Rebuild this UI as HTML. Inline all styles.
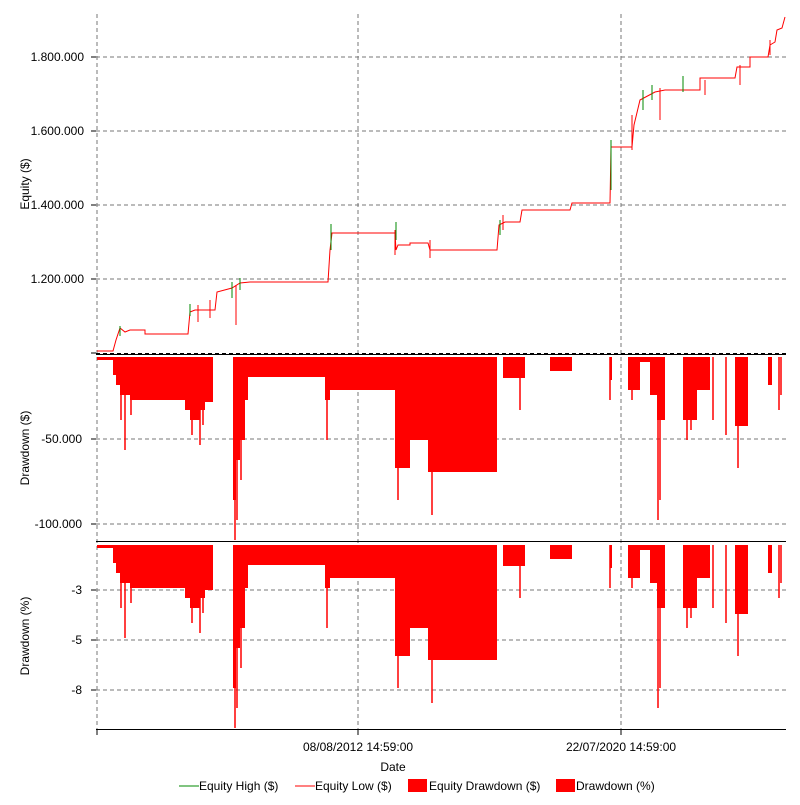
<!DOCTYPE html>
<html><head><meta charset="utf-8"><style>
body{margin:0;background:#fff;font-family:"Liberation Sans",sans-serif;}
svg text{font-family:"Liberation Sans",sans-serif;font-size:12px;fill:#000}
</style></head><body>
<svg id="s" width="800" height="800" xmlns="http://www.w3.org/2000/svg">
<rect width="800" height="800" fill="#fff"/>
<g stroke="#777" stroke-dasharray="4,3" stroke-width="1">
<line x1="97" y1="14" x2="97" y2="729"/><line x1="358" y1="14" x2="358" y2="729"/><line x1="621" y1="14" x2="621" y2="729"/>
<line x1="96" y1="57" x2="786" y2="57"/><line x1="96" y1="131" x2="786" y2="131"/><line x1="96" y1="205" x2="786" y2="205"/><line x1="96" y1="279" x2="786" y2="279"/>
<line x1="96" y1="439" x2="786" y2="439"/><line x1="96" y1="524" x2="786" y2="524"/>
<line x1="96" y1="590" x2="786" y2="590"/><line x1="96" y1="640" x2="786" y2="640"/><line x1="96" y1="690" x2="786" y2="690"/>
</g>
<g id="dd"></g>
<g id="eq"></g>
<g stroke="#000" stroke-width="1">
<line x1="96" y1="353.5" x2="786" y2="353.5" stroke-dasharray="4,3"/>
<line x1="96" y1="354.5" x2="786" y2="354.5"/>
<line x1="96" y1="541.5" x2="786" y2="541.5"/>
<line x1="96" y1="729.5" x2="786" y2="729.5"/>
<line x1="91" y1="57" x2="96" y2="57"/><line x1="91" y1="131" x2="96" y2="131"/><line x1="91" y1="205" x2="96" y2="205"/><line x1="91" y1="279" x2="96" y2="279"/><line x1="91" y1="353" x2="96" y2="353"/>
<line x1="91" y1="439" x2="96" y2="439"/><line x1="91" y1="524" x2="96" y2="524"/>
<line x1="91" y1="590" x2="96" y2="590"/><line x1="91" y1="640" x2="96" y2="640"/><line x1="91" y1="690" x2="96" y2="690"/>
<line x1="97" y1="729" x2="97" y2="735"/><line x1="358" y1="729" x2="358" y2="735"/><line x1="621" y1="729" x2="621" y2="735"/>
</g>
<g text-anchor="end">
<text x="84" y="61">1.800.000</text><text x="84" y="135">1.600.000</text><text x="84" y="209">1.400.000</text><text x="84" y="283">1.200.000</text>
<text x="82" y="443">-50.000</text><text x="82" y="528">-100.000</text>
<text x="82" y="594">-3</text><text x="82" y="644">-5</text><text x="82" y="694">-8</text>
</g>
<text transform="translate(29,184) rotate(-90)" text-anchor="middle">Equity ($)</text>
<text transform="translate(29,448) rotate(-90)" text-anchor="middle">Drawdown ($)</text>
<text transform="translate(29,636) rotate(-90)" text-anchor="middle">Drawdown (%)</text>
<text x="358" y="751" text-anchor="middle">08/08/2012 14:59:00</text>
<text x="621" y="751" text-anchor="middle">22/07/2020 14:59:00</text>
<text x="393" y="771" text-anchor="middle">Date</text>
<line x1="179" y1="786" x2="199" y2="786" stroke="#080"/><text x="199" y="790">Equity High ($)</text>
<line x1="295" y1="786" x2="315" y2="786" stroke="#f00"/><text x="315" y="790">Equity Low ($)</text>
<rect x="408" y="779" width="19" height="13" fill="#f00"/><text x="429" y="790">Equity Drawdown ($)</text>
<rect x="556" y="779" width="19" height="13" fill="#f00"/><text x="576" y="790">Drawdown (%)</text>
</svg>
<script>
var NS="http://www.w3.org/2000/svg";
// drawdown profile: [x, depthY(panel2)]
var segs=[[97,113,360],[113,116,375],[116,120,385],[120,125,395],[125,130,395],[130,185,400],[185,190,410],[190,200,420],[200,205,410],[205,213,402],[213,233,357],[233,236,500],[236,240,460],[240,245,440],[245,248,400],[248,325,377],[325,330,400],[330,395,390],[395,410,468],[410,428,440],[428,497,472],[497,503,357],[503,525,378],[525,550,357],[550,572,371],[572,610,357],[610,612,380],[612,628,357],[628,640,390],[640,650,362],[650,657,395],[657,665,420],[665,683,357],[683,697,420],[697,710,390],[710,725,357],[725,735,357],[735,748,426],[748,768,357],[768,772,385],[772,786,357]];
var spikes=[[121,420],[125,450],[131,415],[192,435],[200,445],[203,425],[235,540],[237,520],[241,480],[327,440],[398,500],[432,515],[520,410],[610,400],[632,400],[658,520],[660,500],[687,440],[691,430],[713,420],[726,435],[738,468],[779,410],[781,395]];
function draw(base,scale){
 var g=document.getElementById("dd");
 var p="M97,"+base;
 segs.forEach(function(s){var d=base+(s[2]-357)*scale;p+=" L"+s[0]+","+d+" L"+s[1]+","+d;});
 p+=" L786,"+base+" Z";
 var e=document.createElementNS(NS,"path");e.setAttribute("d",p);e.setAttribute("fill","#f00");g.appendChild(e);
 spikes.forEach(function(s){var l=document.createElementNS(NS,"line");l.setAttribute("x1",s[0]);l.setAttribute("x2",s[0]);l.setAttribute("y1",base);l.setAttribute("y2",base+(s[1]-357)*scale);l.setAttribute("stroke","#f00");l.setAttribute("stroke-width","1.5");g.appendChild(l);});
}
draw(357,1);draw(545,1.0);
var eq=[[97,351],[113,351],[116,340],[120,328],[125,332],[130,330],[145,330],[145,334],[188,334],[190,312],[195,310],[215,310],[217,292],[232,288],[240,283],[250,282],[328,282],[330,250],[332,233],[395,233],[396,250],[398,245],[410,245],[410,243],[428,243],[430,250],[497,250],[499,225],[505,222],[520,222],[522,210],[570,210],[572,203],[610,203],[611,147],[632,147],[634,125],[640,100],[655,92],[665,90],[700,90],[700,78],[735,78],[737,67],[750,67],[750,57],[768,57],[770,45],[775,42],[777,30],[782,28],[785,17]];
var g=document.getElementById("eq");
var pl=document.createElementNS(NS,"polyline");
pl.setAttribute("points",eq.map(function(p){return p.join(",")}).join(" "));
pl.setAttribute("fill","none");pl.setAttribute("stroke","#f00");pl.setAttribute("stroke-width","1");g.appendChild(pl);
var gs=[[120,326,336],[190,304,316],[232,282,298],[240,278,290],[331,224,250],[396,222,240],[500,220,235],[611,140,190],[643,90,110],[652,85,100],[683,76,92]];
gs.forEach(function(s){var l=document.createElementNS(NS,"line");l.setAttribute("x1",s[0]);l.setAttribute("x2",s[0]);l.setAttribute("y1",s[1]);l.setAttribute("y2",s[2]);l.setAttribute("stroke","#080");g.appendChild(l);});
var rs=[[198,305,322],[210,300,318],[236,285,325],[395,230,255],[430,240,258],[503,215,230],[632,115,150],[660,88,120],[705,80,95],[740,65,85],[770,40,55]];
rs.forEach(function(s){var l=document.createElementNS(NS,"line");l.setAttribute("x1",s[0]);l.setAttribute("x2",s[0]);l.setAttribute("y1",s[1]);l.setAttribute("y2",s[2]);l.setAttribute("stroke","#f00");g.appendChild(l);});
</script>
</body></html>
